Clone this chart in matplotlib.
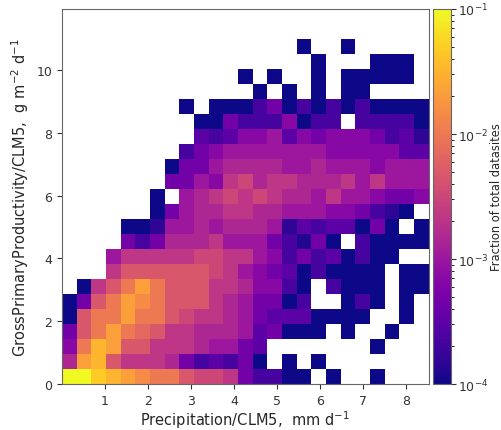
import numpy as np
import matplotlib
matplotlib.use('Agg')
import matplotlib.pyplot as plt
from matplotlib.colors import LogNorm

# bin edges of the 2-D histogram
x_edges = np.linspace(0, 8.535, 26)
y_edges = np.linspace(0, 11.95, 26)

# colour level of each cell, top row first
# '.' = empty, 0 -> 1e-4 ... 9 -> 1e-1 (three levels per decade)
grid_rows = [
    ". . . . . . . . . . . . . . . . . . . . . . . . .",
    ". . . . . . . . . . . . . . . . . . . . . . . . .",
    ". . . . . . . . . . . . . . . . 0 . . 0 . . . . .",
    ". . . . . . . . . . . . . . . . . 0 . . . 0 0 0 .",
    ". . . . . . . . . . . . 0 . 0 . . 0 . 0 0 0 0 0 .",
    ". . . . . . . . . . . . . 0 . 0 . 0 . 0 0 . . . .",
    ". . . . . . . . 0 . 0 0 0 1 2 0 1 0 1 0 1 0 0 0 0",
    ". . . . . . . . . 0 0 2 1 1 1 2.5 0 1 1 . 1 1 1 1 0",
    ". . . . . . . . . 1.5 1 1.5 2.5 2.5 3 1.5 2.5 2 2.5 2.5 2.5 2 1 1.5 0.5",
    ". . . . . . . . 1 2 2.5 3 3 3 3 3 3 3 2.5 2.5 2.5 2.5 2.5 1.5 1.5",
    ". . . . . . . 0 2 2 3 3.5 3.5 3.5 3.5 3 3 3.5 3 3 3 2.5 3 3 3",
    ". . . . . . . 2 2 3 2.5 4 4.5 3.5 4 4 3.5 3.5 3.5 4 3 4 3 3 3",
    ". . . . . . 0 . 3 3.5 4 4.5 4 4.5 4 3.5 3.5 3 4 3 3 2.5 2 2 2.5",
    ". . . . . . 0 2 3 3.5 3.5 4 4 3.5 3.5 3 3 3 2.5 2.5 2 1 0.5 0 .",
    ". . . . 0 0 0.5 3 3 3.5 3 3.5 3.5 3.5 3 0.5 1.5 1 1.5 1.5 0 2 0 . 0",
    ". . . . 2 1 2 3.5 3.5 3.5 4 3 3 3 2 1 0.3 2 0 . 1 0 0 0 0",
    ". . . 3 4 4 4 4 4 4.5 4.5 4 4 3 2.5 1 2 1 1.5 0 1 0 0 . .",
    ". . . 4 5 5 5 5 5 5 4.5 4 3 2.5 2 1.5 0 1 0 0 0 0 . 0 0",
    ". 0 4 5 6 7 6 5 5 5 4 4 3.5 2.5 2.5 1 0 . 1 0 0 0 . 0 0",
    "0 2 5 6 7 6.5 6 5 5 5 4 3.5 3 2 2 0 1 . . 0 1 0 . 0 .",
    "0 5 6 6 7 6 6 5 4.5 4 4 3.5 3 2 1.5 1.5 1.5 0 0 0 0 . . 0 .",
    "2 5 6 7 6 5.5 5 4 4 3.5 3.5 3.5 3 1.5 2 0 0 0 . 0 . . 0 . .",
    "2.5 6 7.5 7 5 5 4 4 4 3.5 3 3 2 1.5 . . . . . . . 0 . . .",
    "3.5 7 7.5 5 4 4 4 3.5 2 1 1.5 1 2 0 . 0 . 0 . . . . . . .",
    "9 9 8 7.5 7 6.5 6 6 5 4.5 4.5 4 2 1 1 0 0 . 0 . . 0 . . .",
]

x_ticks = [1, 2, 3, 4, 5, 6, 7, 8]
y_ticks = [0, 2, 4, 6, 8, 10]

levels = np.array([[np.nan if t == '.' else float(t) for t in row.split()]
                   for row in grid_rows[::-1]])
frac = np.ma.masked_invalid(10 ** (-4 + levels / 3.0))

fig = plt.figure(figsize=(5.02, 4.31), dpi=100)
ax = fig.add_axes([0.1235, 0.1067, 0.7305, 0.8701])
cax = fig.add_axes([0.863, 0.1067, 0.0347, 0.8701])

mesh = ax.pcolormesh(x_edges, y_edges, frac, cmap='plasma',
                     norm=LogNorm(vmin=1e-4, vmax=1e-1))
ax.set_xlim(x_edges[0], x_edges[-1])
ax.set_ylim(y_edges[0], y_edges[-1])
ax.set_xticks(x_ticks)
ax.set_yticks(y_ticks)
ax.tick_params(labelsize=9, colors='0.2')
for sp in ax.spines.values():
    sp.set_color('0.4')

ax.set_xlabel('Precipitation/CLM5,  mm d$^{-1}$', fontsize=10.5,
              color='0.15', labelpad=1)
ax.set_ylabel('GrossPrimaryProductivity/CLM5,  g m$^{-2}$ d$^{-1}$',
              fontsize=10.5, color='0.15')

cb = fig.colorbar(mesh, cax=cax)
cb.ax.tick_params(labelsize=9, colors='0.2', pad=2)
cb.outline.set_edgecolor('0.4')
cb.set_label('Fraction of total datasites', fontsize=8.3, color='0.15',
             labelpad=1)

fig.savefig('out.png', dpi=100)
